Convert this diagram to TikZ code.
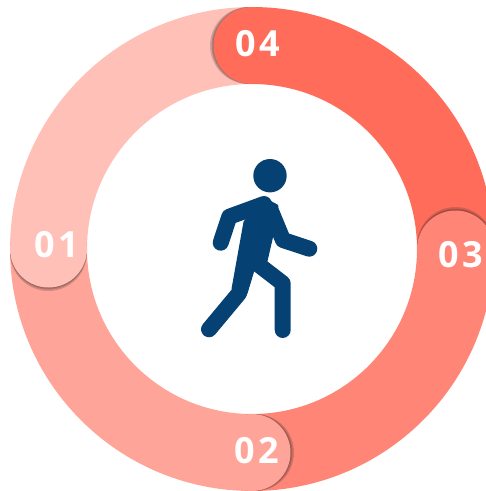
\documentclass[tikz,border=0pt]{standalone}
\usepackage{fontspec}
\newfontfamily\labelfont[LetterSpace=9]{Open Sans}
\definecolor{seg01}{HTML}{FFC0B8}
\definecolor{seg02}{HTML}{FFA498}
\definecolor{seg03}{HTML}{FF8577}
\definecolor{seg04}{HTML}{FF6C5A}
\definecolor{walker}{HTML}{064174}
\tikzset{
    band/.style={line width=77pt},
    capshade/.style={fill=black!75!seg01, opacity=0.22},
    number/.style={font=\labelfont\bfseries\fontsize{36}{36}\selectfont, text=white, inner sep=0pt},
    limb/.style={draw=walker, line width=16pt, line cap=round, line join=round}
}
\begin{document}
\begin{tikzpicture}[x=1pt,y=-1pt]
    \path[clip] (0,0) rectangle (486,491);

    % ring
    \draw[band, seg01] (48.5,249) arc[start angle=180, end angle=270, radius=203.5];
    \draw[band, seg02] (252,452.5) arc[start angle=90, end angle=180, radius=203.5];
    \draw[band, seg03] (455.5,249) arc[start angle=0, end angle=90, radius=203.5];
    \draw[band, seg04] (252,45.5) arc[start angle=-90, end angle=0, radius=203.5];

    % rounded ends
    \fill[capshade] (48.5,252.5) circle (38.5);
    \fill[capshade] (48.5,251) circle (38.5);
    \fill[capshade] (48.5,250) circle (38.5);
    \fill[seg01] (48.5,249) circle (38.5);

    \fill[capshade] (255.5,452.5) circle (38.5);
    \fill[capshade] (254,452.5) circle (38.5);
    \fill[capshade] (253,452.5) circle (38.5);
    \fill[seg02] (252,452.5) circle (38.5);

    \fill[capshade] (455.5,245.5) circle (38.5);
    \fill[capshade] (455.5,247) circle (38.5);
    \fill[capshade] (455.5,248) circle (38.5);
    \fill[seg03] (455.5,249) circle (38.5);

    \fill[capshade] (248.5,45.5) circle (38.5);
    \fill[capshade] (250,45.5) circle (38.5);
    \fill[capshade] (251,45.5) circle (38.5);
    \fill[seg04] (252,45.5) circle (38.5);

    \node (lab01) [number] at (57,245) {01};
    \node (lab02) [number] at (257,451) {02};
    \node (lab03) [number] at (461,255) {03};
    \node (lab04) [number] at (258,44) {04};

    % figure
    \fill[walker] (270,175.7) circle (16.7);
    \fill[walker, draw=walker, line width=3pt, line join=round] (264,199) -- (277,206) -- (272,235) -- (266,261) -- (253,270) -- (246,293) -- (233,289) -- (245,222) -- cycle;
    \draw[limb] (220.7,242.7) -- (229.3,216.7) -- (264,204);
    \draw[limb] (271,211) -- (283,240) -- (309.3,248.7);
    \draw[limb] (209,329.3) -- (239,293.3) -- (248,262);
    \draw[limb] (282.7,330) -- (282.7,283.3) -- (256.7,263.3);
\end{tikzpicture}
\end{document}
